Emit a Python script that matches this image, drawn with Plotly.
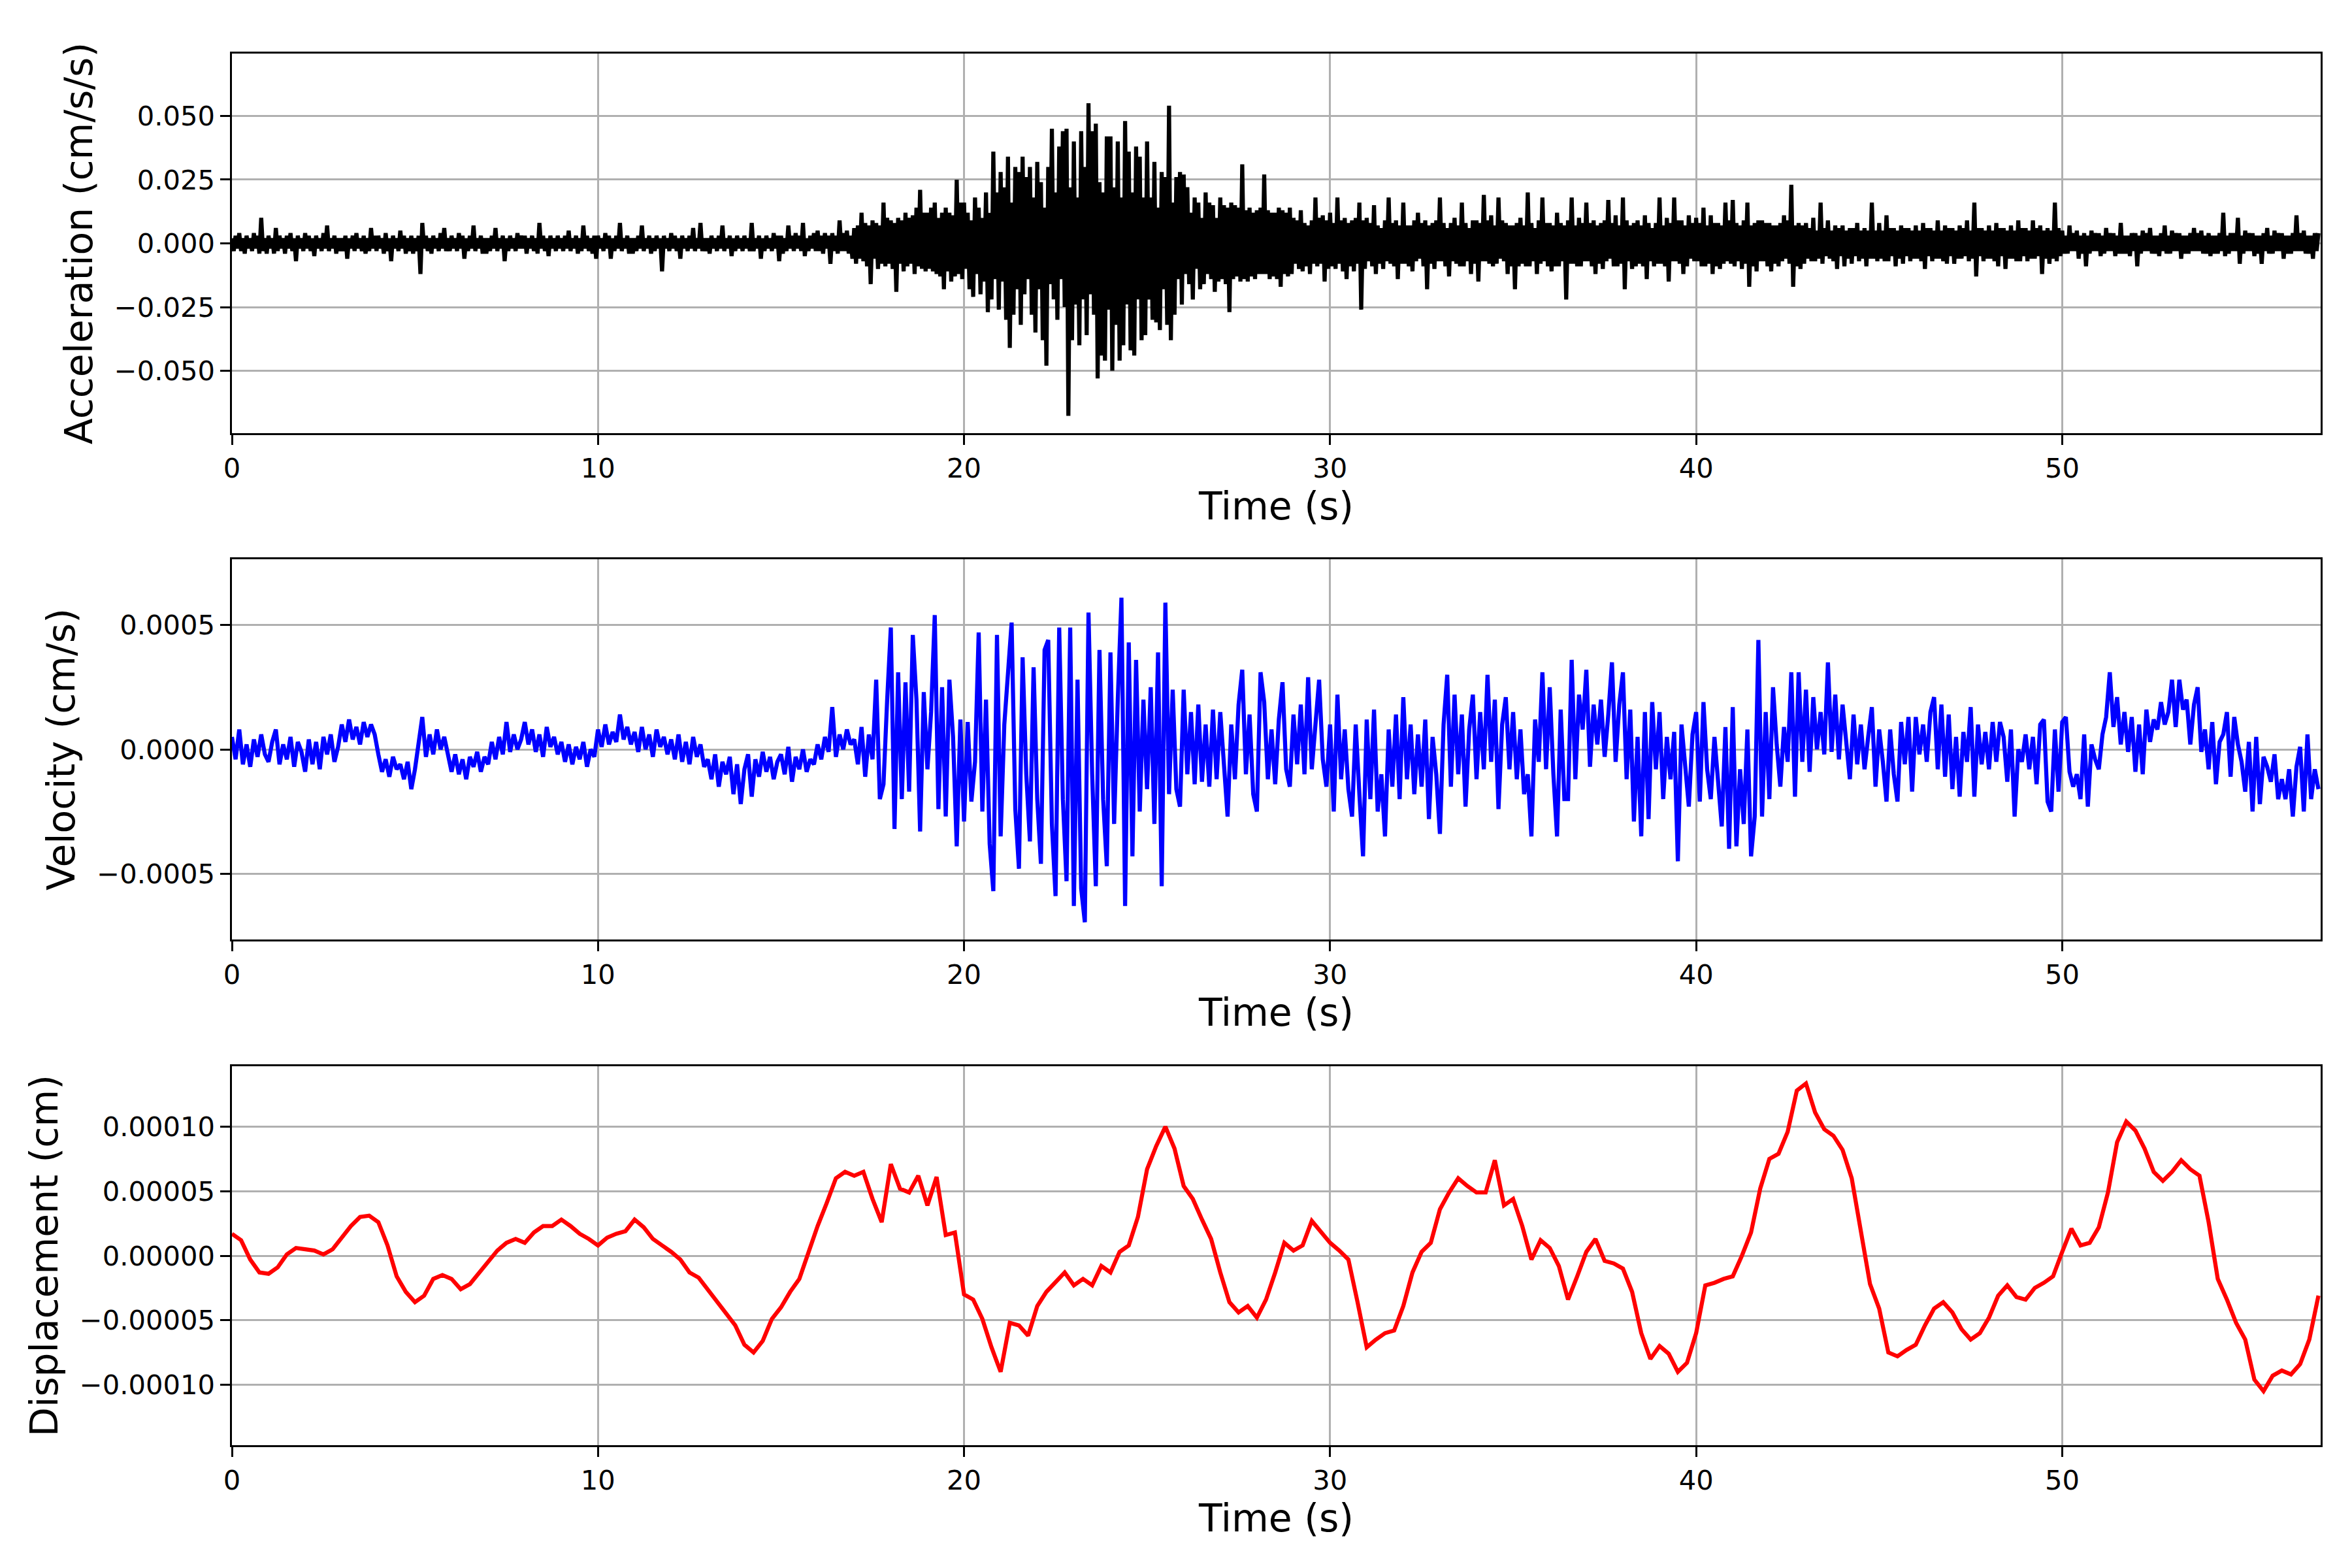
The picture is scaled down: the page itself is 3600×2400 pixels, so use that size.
import numpy as np
import plotly.graph_objects as go

# ---------------- data ----------------
# Acceleration, units of 1e-3 cm/s/s, sampled every 0.05 s from 0 to 57.0 s
ACC_UNIT = 1e-3
acc_milli = [
    2, -3, 3, -2, 4, -3, 2, -4, 3, -2, 2, -3, 4, -2, 3, -4, 10, -3, 2, -4,
    3, -2, 2, -4, 6, -3, 3, -2, 2, -4, 3, -2, 4, -3, 2, -7, 3, -2, 2, -3,
    4, -2, 3, -3, 2, -5, 3, -2, 2, -3, 4, -2, 7, -3, 2, -2, 3, -4, 2, -3,
    2, -3, 3, -6, 2, -2, 3, -3, 4, -2, 2, -3, 3, -4, 2, -3, 6, -2, 3, -3,
    3, -2, 2, -4, 4, -3, 2, -7, 3, -2, 2, -3, 5, -2, 3, -4, 2, -3, 3, -4,
    2, -3, 3, -12, 8, -2, 3, -3, 2, -4, 3, -2, 2, -3, 4, -2, 6, -3, 2, -3,
    3, -2, 2, -3, 4, -2, 3, -6, 2, -3, 3, -2, 7, -3, 2, -2, 3, -4, 2, -4,
    2, -3, 3, -2, 6, -3, 2, -2, 3, -7, 2, -3, 3, -2, 2, -3, 4, -2, 3, -2,
    3, -4, 2, -2, 3, -3, 2, -4, 8, -2, 3, -3, 2, -5, 3, -2, 2, -3, 3, -2,
    2, -3, 3, -2, 5, -3, 2, -2, 3, -4, 2, -3, 7, -2, 3, -3, 2, -4, 3, -6,
    3, -2, 2, -3, 4, -2, 3, -6, 2, -3, 3, -2, 8, -3, 2, -2, 3, -4, 2, -4,
    2, -3, 3, -2, 7, -3, 2, -2, 3, -4, 2, -3, 3, -2, 2, -11, 3, -2, 2, -3,
    4, -2, 3, -3, 2, -6, 3, -2, 2, -3, 3, -2, 6, -3, 2, -2, 8, -3, 2, -3,
    2, -4, 3, -2, 2, -3, 3, -2, 7, -3, 2, -2, 3, -5, 2, -3, 3, -2, 2, -3,
    3, -2, 2, -3, 8, -3, 2, -2, 3, -6, 2, -3, 3, -2, 2, -3, 4, -2, 3, -7,
    3, -4, 2, -3, 7, -2, 3, -3, 4, -2, 3, -3, 8, -5, 2, -3, 3, -2, 4, -3,
    5, -3, 3, -4, 4, -2, 3, -8, 4, -3, 3, -4, 9, -3, 4, -3, 5, -4, 3, -6,
    6, -8, 7, -6, 12, -7, 8, -9, 7, -16, 9, -6, 8, -10, 7, -8, 16, -9, 10, -8,
    9, -10, 8, -19, 10, -8, 9, -11, 12, -9, 10, -8, 11, -12, 14, -9, 21, -10, 12, -11,
    12, -10, 14, -11, 16, -12, 10, -13, 12, -18, 14, -11, 12, -15, 11, -13, 25, -12, 16, -14,
    16, -10, 12, -18, 9, -21, 18, -12, 14, -20, 10, -15, 20, -27, 12, -22, 36, -14, 20, -26,
    28, -15, 22, -30, 34, -41, 16, -28, 30, -18, 28, -32, 34, -20, 26, -14, 30, -28, 18, -35,
    32, -18, 24, -38, 14, -48, 30, -16, 45, -22, 20, -30, 38, -14, 44, -25, 45, -67.7, 22, -38,
    40, -24, 18, -40, 44, -22, 30, -36, 55, -20, 44, -28, 47, -53, 24, -44, 20, -46, 42, -26,
    42, -50, 22, -32, 40, -46, 18, -40, 48, -24, 36, -42, 20, -44, 38, -22, 34, -38, 18, -36,
    40, -22, 18, -30, 32, -31, 14, -34, 28, -18, 26, -32, 54, -38, 16, -28, 26, -14, 28, -24,
    27, -12, 22, -16, 12, -22, 18, -10, 16, -18, 10, -16, 20, -12, 16, -14, 15, -19, 10, -15,
    18, -14, 15, -16, 14, -27, 16, -14, 15, -13, 14, -15, 31, -14, 13, -15, 14, -13, 12, -14,
    13, -12, 14, -12, 27, -12, 13, -14, 12, -13, 12, -14, 14, -17, 13, -12, 12, -13, 14, -12,
    10, -8, 9, -10, 13, -11, 8, -9, 7, -12, 9, -8, 18, -9, 10, -8, 11, -15, 9, -10,
    12, -9, 8, -10, 18, -8, 9, -11, 10, -14, 8, -9, 9, -11, 10, -8, 16, -26, 9, -10,
    10, -7, 8, -9, 15, -12, 7, -8, 6, -10, 9, -7, 18, -8, 8, -9, 9, -14, 7, -8,
    16, -8, 7, -9, 7, -11, 9, -7, 12, -6, 8, -9, 9, -18, 7, -8, 8, -10, 9, -7,
    18, -7, 8, -9, 6, -13, 8, -7, 10, -8, 7, -9, 16, -9, 8, -7, 6, -12, 9, -8,
    9, -15, 8, -7, 19, -7, 9, -8, 11, -9, 7, -8, 18, -6, 9, -7, 8, -12, 7, -9,
    7, -18, 8, -9, 10, -8, 7, -9, 20, -9, 8, -7, 6, -12, 9, -8, 18, -7, 8, -9,
    8, -11, 7, -9, 12, -9, 8, -7, 7, -22, 9, -8, 18, -8, 7, -9, 10, -9, 8, -7,
    16, -7, 8, -9, 9, -12, 7, -8, 8, -10, 9, -7, 17, -6, 8, -9, 11, -9, 7, -8,
    18, -18, 9, -7, 7, -10, 8, -9, 9, -8, 7, -9, 11, -14, 8, -7, 6, -9, 8, -8,
    18, -8, 7, -9, 10, -15, 8, -7, 18, -7, 9, -8, 9, -12, 7, -9, 11, -6, 8, -7,
    10, -7, 8, -9, 14, -9, 7, -8, 11, -12, 8, -9, 8, -10, 7, -8, 16, -7, 9, -8,
    17, -9, 8, -7, 7, -10, 9, -8, 16, -17, 7, -9, 8, -11, 9, -7, 9, -7, 8, -9,
    8, -11, 7, -8, 7, -9, 8, -7, 11, -6, 9, -8, 23, -17, 7, -9, 8, -10, 7, -8,
    8, -6, 6, -7, 10, -7, 5, -6, 16, -8, 6, -5, 9, -6, 5, -7, 7, -10, 6, -5,
    7, -9, 5, -6, 6, -8, 6, -5, 8, -7, 5, -6, 6, -9, 5, -6, 16, -6, 5, -7,
    8, -6, 5, -7, 11, -7, 6, -5, 6, -9, 5, -6, 7, -8, 6, -5, 6, -7, 5, -6,
    7, -6, 5, -7, 8, -10, 6, -5, 6, -7, 5, -6, 9, -6, 5, -7, 7, -8, 6, -5,
    6, -8, 5, -6, 7, -6, 6, -5, 9, -7, 5, -6, 16, -13, 6, -5, 6, -7, 5, -6,
    7, -6, 5, -7, 8, -9, 6, -5, 6, -10, 5, -6, 7, -6, 5, -7, 9, -7, 6, -5,
    6, -7, 5, -6, 9, -6, 6, -5, 7, -12, 5, -6, 6, -8, 5, -6, 16, -7, 6, -5,
    5, -4, 3, -4, 7, -3, 4, -3, 5, -6, 3, -4, 4, -9, 3, -4, 5, -3, 4, -3,
    4, -5, 3, -4, 6, -3, 4, -3, 4, -5, 3, -4, 8, -4, 3, -4, 3, -5, 4, -3,
    4, -9, 3, -4, 5, -3, 4, -3, 6, -4, 3, -4, 3, -5, 4, -3, 7, -4, 3, -4,
    5, -3, 4, -3, 4, -6, 3, -4, 3, -4, 4, -3, 6, -3, 4, -3, 5, -4, 3, -4,
    4, -5, 3, -4, 3, -4, 4, -3, 12, -5, 3, -4, 4, -3, 4, -3, 10, -8, 3, -4,
    5, -3, 4, -3, 4, -5, 3, -4, 3, -8, 4, -3, 6, -4, 3, -4, 5, -3, 4, -3,
    4, -6, 3, -4, 3, -4, 4, -3, 11, -3, 4, -3, 5, -4, 3, -4, 3, -6, 4, -3,
    4,
]

# Velocity, units of 1e-5 cm/s, sampled every 0.1 s from 0 to 57.0 s
VEL_UNIT = 1e-5
vel_e5 = [
    5, -4, 8, -6, 2, -7, 4, -3, 6, -2,
    -5, 3, 8, -6, 2, -4, 5, -7, 3, -1,
    -9, 4, -6, 3, -8, 5, -2, 6, -5, 1,
    10, 3, 12, 4, 9, 2, 11, 5, 10, 6,
    -2, -9, -4, -11, -3, -8, -6, -12, -5, -16,
    -8, 2, 13, -3, 6, -2, 8, 0, 5, -2,
    -9, -2, -10, -4, -12, -3, -7, -1, -9, -3,
    -6, 3, -4, 5, -2, 11, -1, 6, 0, 4,
    11, 2, 8, -1, 6, -3, 9, 1, 5, -2,
    3, -5, 2, -6, 1, -4, 3, -7, 0, -3,
    8, 1, 10, 2, 7, 3, 14, 4, 9, 2,
    7, -1, 9, 0, 6, -3, 8, 1, 5, -2,
    4, -4, 6, -5, 3, -6, 5, -3, 2, -7,
    -4, -12, -2, -15, -5, -10, -3, -18, -6, -22,
    -8, -2, -19, -4, -11, -1, -9, -3, -12, -5,
    -2, -10, 1, -13, -3, -8, 0, -9, -4, -6,
    2, -4, 5, -1, 17, -3, 6, 0, 8, 2,
    4, -6, 9, -11, 6, -4, 28, -20, -14, 20,
    49, -32, 31, -20, 27, -17, 46, 20, -33, 23,
    -8, 15, 54, -24, 25, -27, 28, 5, -39, 12,
    -29, 11, -21, -5, 47, -25, 20, -38, -57, 46,
    -35, 10, 32, 51, -24, -48, 37, -10, -37, 33,
    -20, -46, 40, 44, -30, -59, 49, -20, -53, 49,
    -63, 28, -56, -69.5, 55, -10, -55, 40, -20, -47,
    39, -30, 20, 61, -63, 43, -43, 36, -25, 20,
    -16, 25, -30, 39, -55, 59, -18, 24, -16, -23,
    24, -10, 15, -14, 18, -13, 10, -15, 16, -12,
    15, -8, -27, 10, -12, 18, 32, -10, 14, -18,
    -25, 31, 19, -12, 8, -14, 12, 27, -8, -15,
    14, -6, 18, -10, 29, -8, 12, 28, -4, -15,
    10, -25, 22, -12, 8, -16, -27, 10, -18, -43,
    12, -20, 16, -25, -10, -35, 8, -15, 14, -20,
    21, -12, 10, -18, 6, -15, 12, -28, 5, -10,
    -34, 10, 30, -15, 22, -10, 14, -23, 8, 22,
    -12, 15, -8, 30, -5, 20, -24, 10, 21, -8,
    15, -12, 8, -18, -10, -35, 12, -5, 31, -8,
    25, -10, -35, 16, -20, -20, 36, -12, 22, 8,
    32, -7, 18, 2, 20, -3, 14, 35, -5, 18,
    31, -12, 16, -29, 5, -35, 15, -28, 19, -8,
    15, -20, 5, -12, 7, -45, 10, -8, -23, 6,
    15, -21, 19, -8, -20, 5, -12, -31, 9, -40,
    17, -39, -8, -30, 8, -43, -27, 44, -27, 15,
    -20, 25, 2, -15, 9, -5, 31, -19, 31, -5,
    24, -9, 21, 0, 15, -2, 35, -1, 22, -4,
    18, 4, -12, 14, -6, 10, -8, 5, 17, -15,
    8, -5, -21, 8, -10, -21, 11, -6, 13, -17,
    13, -2, 10, -5, 15, 21, -8, 18, -11, 14,
    -16, 5, -19, 7, -5, 17, -19, 10, -6, 7,
    -8, 11, -5, 11, 5, -13, 8, -27, 0, -5,
    6, -8, 5, -14, 10, 12, -21, -25, 8, -17,
    11, 13, -9, -15, -10, -20, 6, -23, 2, -4,
    -8, 6, 13, 31, 9, 21, 2, 15, -1, 13,
    -9, 10, -10, 16, 3, 12, 8, 19, 10, 15,
    28, 9, 28, 16, 20, 2, 18, 25, -1, 8,
    -8, 11, -14, 3, 6, 15, -11, 13, 2, -5,
    -17, 3, -25, 5, -22, -3, -7, -13, -2, -20,
    -12, -20, -8, -27, -7, 1, -25, 6, -20, -8,
    -16,
]

# Displacement, units of 1e-6 cm, sampled every 0.25 s from 0 to 57.0 s
DISP_UNIT = 1e-6
disp_e6 = [
    17, 12, -3, -13, -14, -9, 1, 6, 5, 4, 1, 5, 14, 23, 30, 31,
    26, 8, -16, -28, -36, -31, -18, -15, -18, -26, -22, -13, -4, 4, 10, 13,
    10, 18, 23, 23, 28, 23, 17, 13, 8, 14, 17, 19, 28, 22, 13, 8,
    3, -3, -13, -17, -26, -35, -45, -54, -69, -75, -66, -49, -40, -28, -18, 3,
    23, 41, 60, 65, 62, 65, 44, 26, 71, 52, 49, 62, 39, 61, 16, 18,
    -30, -34, -49, -71, -90, -52, -54, -62, -39, -28, -21, -13, -23, -18, -23, -8,
    -13, 3, 8, 30, 67, 85, 100, 83, 54, 44, 28, 13, -13, -36, -44, -39,
    -48, -34, -13, 10, 4, 8, 27, 18, 10, 4, -3, -36, -71, -65, -60, -58,
    -39, -13, 3, 10, 36, 49, 60, 54, 49, 49, 74, 39, 44, 23, -3, 12,
    6, -8, -34, -16, 3, 13, -4, -6, -10, -28, -60, -80, -70, -76, -90, -83,
    -60, -23, -21, -18, -16, 0, 18, 52, 75, 79, 96, 128, 133.5, 111, 98, 93,
    82, 60, 18, -22, -41, -75, -78, -73, -69, -54, -41, -36, -44, -57, -65, -60,
    -48, -31, -23, -32, -34, -25, -21, -16, 3, 21, 8, 10, 22, 49, 88, 104,
    97, 83, 65, 58, 65, 74, 67, 62, 26, -18, -34, -52, -65, -96, -105, -93,
    -89, -92, -84, -65, -31,
]

ACC_DT = 0.05
VEL_DT = 0.1
DISP_DT = 0.25
T_END = 57.06

x_ticks = [0, 10, 20, 30, 40, 50]
acc_ticks = [-0.05, -0.025, 0.0, 0.025, 0.05]
vel_ticks = [-0.0005, 0.0, 0.0005]
disp_ticks = [-0.0001, -0.00005, 0.0, 0.00005, 0.0001]

acc = np.array(acc_milli, dtype=float) * ACC_UNIT
vel = np.array(vel_e5, dtype=float) * VEL_UNIT
disp = np.array(disp_e6, dtype=float) * DISP_UNIT
t_acc = np.round(np.arange(len(acc)) * ACC_DT, 3)
t_vel = np.round(np.arange(len(vel)) * VEL_DT, 3)
t_disp = np.round(np.arange(len(disp)) * DISP_DT, 3)

# ---------------- figure ----------------
W, H = 3600, 2400
PT = 300 / 72.0  # px per point at 300 dpi
FONT = "DejaVu Sans"
LW = 1.5 * PT
AXW = 0.8 * PT

fig = go.Figure()
fig.add_trace(go.Scatter(x=t_acc, y=acc, mode="lines",
                         line=dict(color="black", width=LW), xaxis="x", yaxis="y",
                         showlegend=False, hoverinfo="skip"))
fig.add_trace(go.Scatter(x=t_vel, y=vel, mode="lines",
                         line=dict(color="blue", width=LW), xaxis="x2", yaxis="y2",
                         showlegend=False, hoverinfo="skip"))
fig.add_trace(go.Scatter(x=t_disp, y=disp, mode="lines",
                         line=dict(color="red", width=LW), xaxis="x3", yaxis="y3",
                         showlegend=False, hoverinfo="skip"))

xdom = [355 / W, 3552 / W]
ydoms = [
    [1 - 663 / H, 1 - 82 / H],
    [1 - 1438 / H, 1 - 856 / H],
    [1 - 2212 / H, 1 - 1632 / H],
]

common_axis = dict(
    showline=True, mirror=True, linecolor="black", linewidth=AXW,
    ticks="outside", ticklen=3.5 * PT, tickwidth=AXW, tickcolor="black",
    showgrid=True, gridcolor="#b0b0b0", gridwidth=AXW,
    zeroline=False, automargin=False,
    tickfont=dict(family=FONT, size=10 * PT, color="black"),
)


def xaxis_def(anchor):
    d = dict(common_axis)
    d.update(domain=xdom, anchor=anchor, range=[0, T_END], tickmode="array",
             tickvals=x_ticks, ticktext=[str(v) for v in x_ticks],
             title=dict(text="Time (s)", font=dict(family=FONT, size=14 * PT, color="black"),
                        standoff=12))
    return d


def yaxis_def(anchor, dom, data, ticks, fmt, title):
    lim = 1.1 * float(np.max(np.abs(data)))
    d = dict(common_axis)
    d.update(domain=dom, anchor=anchor, range=[-lim, lim], tickmode="array",
             tickvals=ticks, tickformat=fmt,
             title=dict(text=title, font=dict(family=FONT, size=14 * PT, color="black"),
                        standoff=15))
    return d


fig.update_layout(
    width=W, height=H, autosize=False,
    margin=dict(l=0, r=0, t=0, b=0, pad=0),
    paper_bgcolor="white", plot_bgcolor="white",
    font=dict(family=FONT, color="black"),
    xaxis=xaxis_def("y"),
    xaxis2=xaxis_def("y2"),
    xaxis3=xaxis_def("y3"),
    yaxis=yaxis_def("x", ydoms[0], acc, acc_ticks, ".3f", "Acceleration (cm/s/s)"),
    yaxis2=yaxis_def("x2", ydoms[1], vel, vel_ticks, ".4f", "Velocity (cm/s)"),
    yaxis3=yaxis_def("x3", ydoms[2], disp, disp_ticks, ".5f", "Displacement (cm)"),
)

fig.write_html("out.html", config={"displayModeBar": False},
               post_script="document.body.style.margin='0';")
